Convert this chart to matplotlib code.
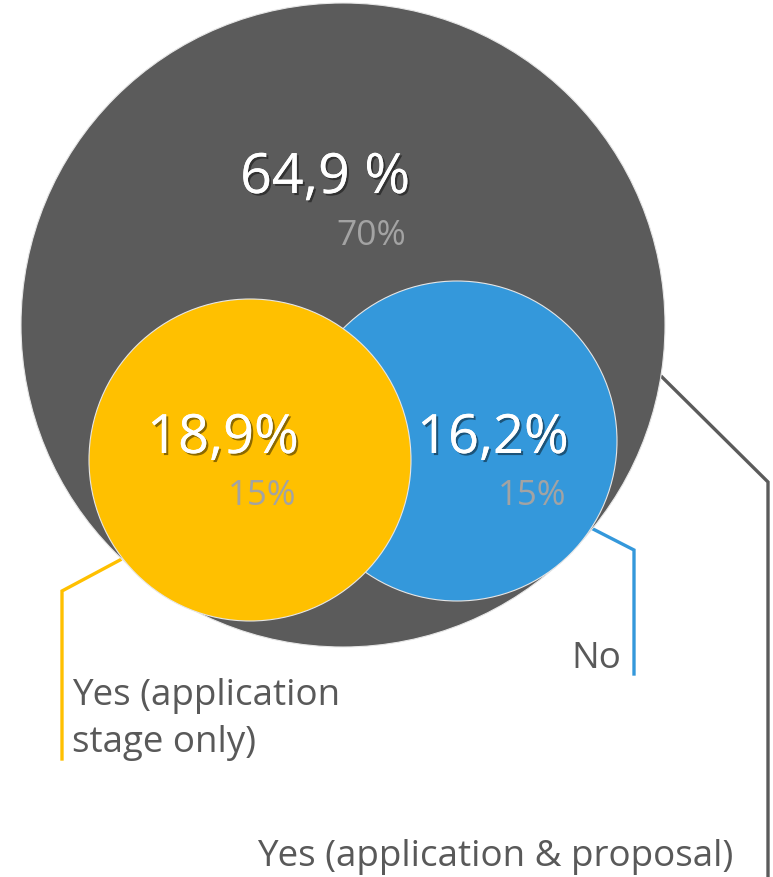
"""Venn-style bubble chart: share of answers vs target (three groups)."""
import matplotlib.pyplot as plt
import matplotlib.patheffects as pe
from matplotlib.patches import Circle

# data
groups = ["Yes (application & proposal)", "Yes (application\nstage only)", "No"]
shares = ["64,9 %", "18,9%", "16,2%"]
targets = ["70%", "15%", "15%"]
colors = ["#5b5b5b", "#ffc000", "#3498db"]

# layout in pixel units (figure is 773 x 878)
W, H = 773, 878
centers = [(343, 326), (250, 461), (457, 442)]
radii = [322, 161, 160]
draw_order = [0, 2, 1]          # yellow sits on top of blue
share_xy = [(325, 194), (223, 454), (493, 454)]
target_xy = [(406, 245), (296, 505), (566, 505)]
share_size = [40, 39, 39]
target_size = [25.5, 25, 25]
leaders = [
    [(662, 378), (768, 483), (768, 878)],
    [(120, 561), (62, 592), (62, 760)],
    [(593, 530), (634, 551), (634, 675)],
]
label_xy = [(733, 866, "right"), (72, 752, "left"), (621, 668, "right")]
label_size = 26.5

plt.rcParams["font.family"] = ["Open Sans", "DejaVu Sans"]

fig = plt.figure(figsize=(W / 100, H / 100), dpi=100)
ax = fig.add_axes([0, 0, 1, 1])
ax.set_xlim(0, W)
ax.set_ylim(H, 0)
ax.set_aspect("equal")
ax.axis("off")

for i in draw_order:
    ax.add_patch(Circle(centers[i], radii[i], facecolor=colors[i],
                        edgecolor="#e6e6e6", linewidth=0.8, zorder=2 + draw_order.index(i)))

shadow = [pe.withSimplePatchShadow(offset=(1.5, -1.5), shadow_rgbFace="black", alpha=0.45),
          pe.Normal()]
for i in range(3):
    x, y = share_xy[i]
    ax.text(x, y, shares[i], color="white", fontsize=share_size[i], ha="center",
            va="baseline", zorder=10, path_effects=shadow)
    x, y = target_xy[i]
    ax.text(x, y, targets[i], color="#a3a3a3", fontsize=target_size[i], ha="right",
            va="baseline", zorder=10)

for i, pts in enumerate(leaders):
    xs, ys = zip(*pts)
    ax.plot(xs, ys, color=colors[i], linewidth=2.4, solid_joinstyle="miter", zorder=1)
    x, y, ha = label_xy[i]
    ax.text(x, y, groups[i], color="#595959", fontsize=label_size, ha=ha,
            va="baseline", linespacing=1.42, zorder=10)

fig.savefig("out.png", dpi=100)
